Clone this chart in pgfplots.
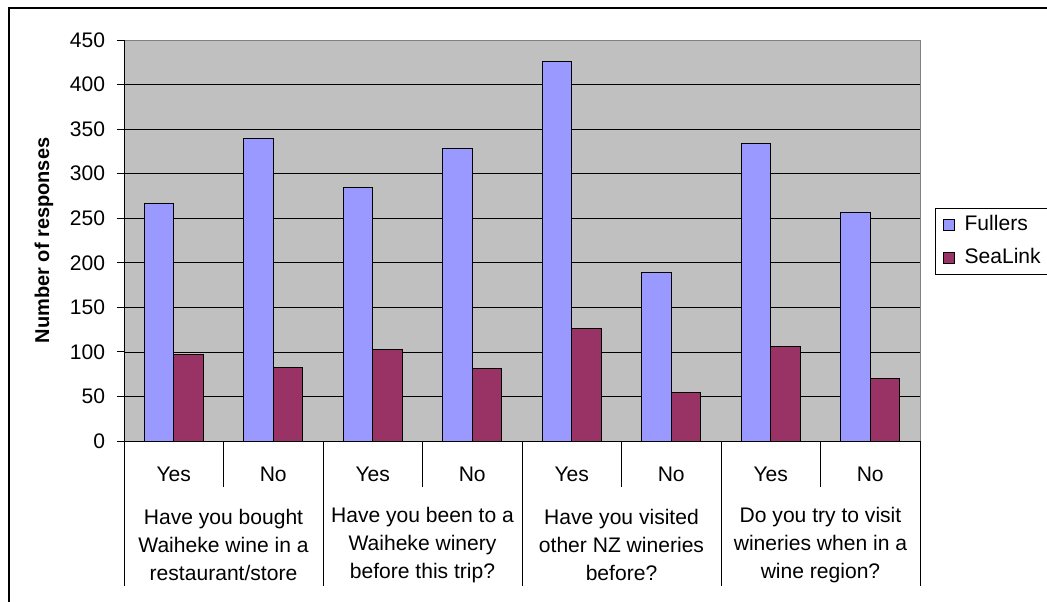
\documentclass[border=0pt]{standalone}
\usepackage{pgfplots}
\pgfplotsset{compat=1.18}
\usepackage{fontspec}
\setmainfont{Liberation Sans}
\definecolor{fullers}{HTML}{9999FF}
\definecolor{sealink}{HTML}{993366}
\definecolor{plotgray}{HTML}{C0C0C0}
\definecolor{edgegray}{HTML}{808080}
\newcommand{\cfont}{\fontsize{15.8}{21}\selectfont}
\newcommand{\lfont}{\fontsize{15}{21}\selectfont}
\pgfplotsset{ybar legend/.style={legend image code/.code={\draw[##1,draw=black,line width=0.6pt] (0pt,-4.1pt) rectangle (8.25pt,4.1pt);}}}
\begin{document}
\begin{tikzpicture}
\useasboundingbox (0,0) rectangle (785.25pt,-450.75pt);
\draw[line width=1.5pt] (6.75pt,-452pt) -- (6.75pt,-6pt) -- (787pt,-6pt);
\begin{axis}[
  at={(93pt,-330.75pt)}, anchor=south west,
  scale only axis, width=597pt, height=300.75pt,
  ybar=0pt, bar width=22pt,
  xmin=-0.5, xmax=7.5, ymin=0, ymax=450,
  ytick={0,50,...,450},
  xtick={0,...,7},
  xticklabels={Yes,No,Yes,No,Yes,No,Yes,No},
  x tick style={draw=none},
  y tick style={black, line width=0.75pt},
  tick align=outside, major tick length=5.25pt,
  ytick pos=left,
  ymajorgrids, major grid style={black, line width=0.6pt},
  axis background/.style={fill=plotgray},
  axis line style={draw=none},
  ticklabel style={font=\cfont},
  /pgf/number format/assume math mode=true,
  yticklabel style={anchor=east, inner sep=0pt, xshift=-8.75pt},
  xticklabel style={anchor=center, yshift=-19.5pt},
  ylabel={\bfseries Number of responses},
  every axis y label/.style={at={([xshift=-60pt]rel axis cs:0,0.5)}, rotate=90, anchor=center, font=\lfont},
  clip=false,
  legend cell align=left,
  legend style={at={(axis description cs:1.0188,0.581)}, anchor=north west, draw=black, line width=0.75pt, fill=white, font=\cfont,
    inner xsep=6pt, inner ysep=5.4pt, row sep=10.75pt,
    nodes={inner sep=0pt, text height=11pt, text depth=3pt},
    /tikz/every odd column/.append style={column sep=7pt}},
]
\addplot[fill=fullers, draw=black, line width=0.75pt] coordinates {(0,266) (1,340) (2,284) (3,328) (4,426) (5,189) (6,334) (7,256)};
\addlegendentry{Fullers}
\addplot[fill=sealink, draw=black, line width=0.75pt] coordinates {(0,97) (1,82) (2,103) (3,81) (4,126) (5,55) (6,106) (7,70)};
\addlegendentry{SeaLink}
\draw[edgegray, line width=0.75pt] (rel axis cs:0,1) -- (rel axis cs:1,1) -- (rel axis cs:1,0);
\draw[black, line width=0.75pt] (rel axis cs:0,1) -- (rel axis cs:0,0) -- (rel axis cs:1,0);
\pgfplotsinvokeforeach{0.5,2.5,4.5,6.5}{\draw[black, line width=0.75pt] (axis cs:#1,0) -- ([yshift=-34.5pt]axis cs:#1,0);}
\pgfplotsinvokeforeach{-0.5,1.5,3.5,5.5,7.5}{\draw[black, line width=0.75pt] (axis cs:#1,0) -- ([yshift=-108.75pt]axis cs:#1,0);}
\node[align=center, font=\cfont, anchor=center] at ([yshift=-78pt]axis cs:0.5,0) {Have you bought\\Waiheke wine in a\\restaurant/store};
\node[align=center, font=\cfont, anchor=center] at ([yshift=-78pt]axis cs:2.5,0) {Have you been to a\\Waiheke winery\\before this trip?};
\node[align=center, font=\cfont, anchor=center] at ([yshift=-78pt]axis cs:4.5,0) {Have you visited\\other NZ wineries\\before?};
\node[align=center, font=\cfont, anchor=center] at ([yshift=-78pt]axis cs:6.5,0) {Do you try to visit\\wineries when in a\\wine region?};
\end{axis}
\end{tikzpicture}
\end{document}
